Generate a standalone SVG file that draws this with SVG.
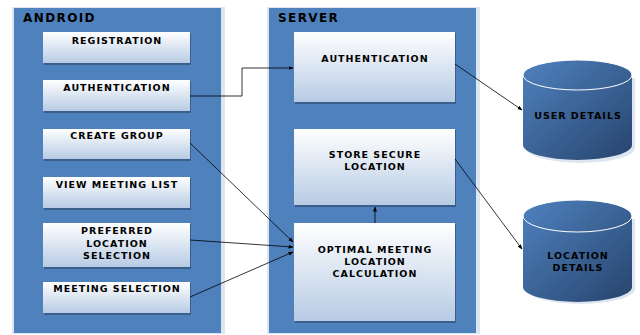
<svg xmlns="http://www.w3.org/2000/svg" width="640" height="335" viewBox="0 0 640 335">
  <defs>
    <linearGradient id="boxFill" x1="0" y1="0" x2="0" y2="1">
      <stop offset="0" stop-color="#ffffff"/>
      <stop offset="1" stop-color="#b7cbe4"/>
    </linearGradient>
    <linearGradient id="dbFill" x1="0" y1="0" x2="1" y2="1">
      <stop offset="0" stop-color="#4f82bf"/>
      <stop offset="1" stop-color="#27446d"/>
    </linearGradient>
    <marker id="arrow" viewBox="0 0 10 10" refX="9" refY="5" markerWidth="5" markerHeight="5" orient="auto" markerUnits="userSpaceOnUse">
      <path d="M0,1 L10,5 L0,9 Z" fill="#000"/>
    </marker>
    <style>
      .frame { fill: #dde5ef; }
      .panel { fill: #4f81bd; }
      .shadow { fill: #3b5f8d; }
      .box { fill: url(#boxFill); }
      .title { font-family: "DejaVu Sans", sans-serif; font-weight: bold; font-size: 12px; letter-spacing: 1.4px; fill: #000; }
      .lbl { font-family: "DejaVu Sans", sans-serif; font-weight: bold; font-size: 9.5px; letter-spacing: 1px; fill: #000; text-anchor: middle; }
      .dbshadow { fill: #dce5f0; }
      .db { fill: url(#dbFill); }
      .cap { fill: none; stroke: #ffffff; stroke-width: 1; }
      .wire { fill: none; stroke: #000; stroke-width: 0.8; marker-end: url(#arrow); }
    </style>
  </defs>

  <!-- Android client panel -->
  <g id="android">
    <rect class="frame" x="12" y="7" width="213" height="327"/>
    <rect class="panel" x="14" y="8" width="207" height="325"/>
    <text class="title" x="23" y="21.5">ANDROID</text>
  </g>

  <!-- Server panel -->
  <g id="server">
    <rect class="frame" x="267" y="7" width="213" height="327"/>
    <rect class="panel" x="269" y="8" width="207" height="325"/>
    <text class="title" x="278" y="21.5">SERVER</text>
  </g>

  <g id="registration">
    <rect class="shadow" x="44" y="33" width="147" height="32"/>
    <rect class="box" x="43" y="32" width="147" height="31"/>
    <text class="lbl" x="117" y="44">REGISTRATION</text>
  </g>
  <g id="android-auth">
    <rect class="shadow" x="44" y="81" width="147" height="32"/>
    <rect class="box" x="43" y="80" width="147" height="31"/>
    <text class="lbl" x="117" y="91">AUTHENTICATION</text>
  </g>
  <g id="create-group">
    <rect class="shadow" x="44" y="130" width="147" height="31"/>
    <rect class="box" x="43" y="129" width="147" height="30"/>
    <text class="lbl" x="117" y="139">CREATE GROUP</text>
  </g>
  <g id="view-meeting-list">
    <rect class="shadow" x="44" y="178" width="147" height="32"/>
    <rect class="box" x="43" y="177" width="147" height="31"/>
    <text class="lbl" x="117" y="188">VIEW MEETING LIST</text>
  </g>
  <g id="preferred-location">
    <rect class="shadow" x="44" y="224" width="147" height="45"/>
    <rect class="box" x="43" y="223" width="147" height="44"/>
    <text class="lbl" x="117" y="234">PREFERRED</text>
    <text class="lbl" x="117" y="246.5">LOCATION</text>
    <text class="lbl" x="117" y="259">SELECTION</text>
  </g>
  <g id="meeting-selection">
    <rect class="shadow" x="44" y="283" width="147" height="32"/>
    <rect class="box" x="43" y="282" width="147" height="31"/>
    <text class="lbl" x="117" y="292">MEETING SELECTION</text>
  </g>

  <g id="server-auth">
    <rect class="shadow" x="295" y="33" width="161" height="71"/>
    <rect class="box" x="294" y="32" width="161" height="70"/>
    <text class="lbl" x="375" y="62">AUTHENTICATION</text>
  </g>
  <g id="store-location">
    <rect class="shadow" x="295" y="130" width="161" height="77"/>
    <rect class="box" x="294" y="129" width="161" height="76"/>
    <text class="lbl" x="375" y="158">STORE SECURE</text>
    <text class="lbl" x="375" y="170">LOCATION</text>
  </g>
  <g id="optimal-location">
    <rect class="shadow" x="295" y="224" width="161" height="99"/>
    <rect class="box" x="294" y="223" width="161" height="98"/>
    <text class="lbl" x="375" y="253">OPTIMAL MEETING</text>
    <text class="lbl" x="375" y="265">LOCATION</text>
    <text class="lbl" x="375" y="277">CALCULATION</text>
  </g>

  <g id="user-details">
    <path class="dbshadow" d="M526,78 v70 a54.5,15 0 0 0 109,0 v-70 Z"/>
    <path class="db" d="M523,75 v70 a54.5,15 0 0 0 109,0 v-70 a54.5,15 0 0 0 -109,0 Z"/>
    <ellipse class="cap" cx="577.5" cy="75" rx="54.5" ry="15"/>
    <text class="lbl" x="578" y="119">USER DETAILS</text>
  </g>
  <g id="location-details">
    <path class="dbshadow" d="M526,219 v70 a54.5,15 0 0 0 109,0 v-70 Z"/>
    <path class="db" d="M523,216 v71 a54.5,15 0 0 0 109,0 v-71 a54.5,16 0 0 0 -109,0 Z"/>
    <ellipse class="cap" cx="577.5" cy="216" rx="54.5" ry="16"/>
    <text class="lbl" x="578" y="259">LOCATION</text>
    <text class="lbl" x="578" y="271">DETAILS</text>
  </g>

  <!-- Connectors -->
  <g id="connectors">
    <path class="wire" d="M190,96 H242 V68 H293"/>
    <path class="wire" d="M455,64 L522,110"/>
    <path class="wire" d="M455,159 L522,249"/>
    <path class="wire" d="M190,143 L293,242"/>
    <path class="wire" d="M190,240 L293,247"/>
    <path class="wire" d="M190,297 L293,252"/>
    <path class="wire" d="M375,223 V207"/>
  </g>
</svg>
